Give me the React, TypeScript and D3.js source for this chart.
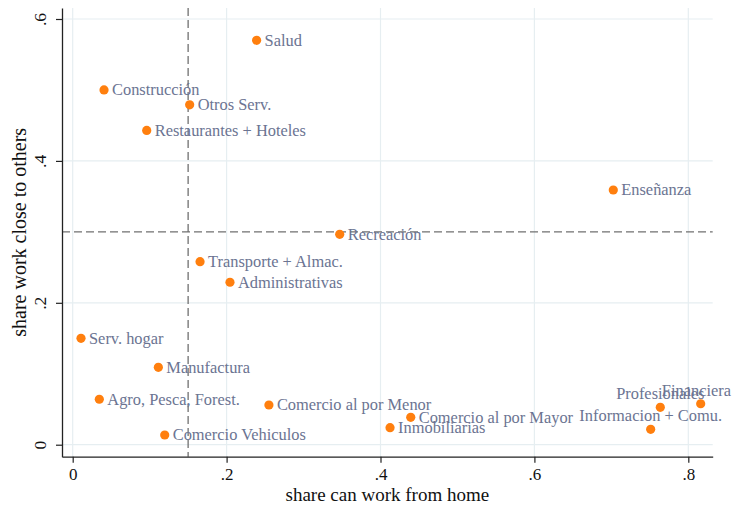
import React, { useEffect, useRef } from 'react'
import * as d3 from 'd3'

// sectors and their shares
const sectors = [
  'Salud',
  'Construcción',
  'Otros Serv.',
  'Restaurantes + Hoteles',
  'Enseñanza',
  'Recreación',
  'Transporte + Almac.',
  'Administrativas',
  'Serv. hogar',
  'Manufactura',
  'Agro, Pesca, Forest.',
  'Comercio Vehiculos',
  'Comercio al por Menor',
  'Inmobiliarias',
  'Comercio al por Mayor',
  'Profesionales',
  'Financiera',
  'Informacion + Comu.',
]
const workFromHome = [
  0.239, 0.0407, 0.152, 0.0962, 0.7025, 0.347, 0.1655, 0.2044, 0.0108, 0.1113, 0.0346, 0.1196, 0.255,
  0.4124, 0.4393, 0.7636, 0.8161, 0.7511,
]
const closeToOthers = [
  0.57, 0.5, 0.479, 0.443, 0.359, 0.2965, 0.258, 0.229, 0.1499, 0.109, 0.0641, 0.0137, 0.056, 0.024,
  0.0386, 0.0527, 0.0577, 0.0217,
]
const xTicks = [0, 0.2, 0.4, 0.6, 0.8]
const yTicks = [0, 0.2, 0.4, 0.6]
const xCut = 0.15
const yCut = 0.3
// labels placed above the marker instead of to the right
const labelsAbove = ['Profesionales', 'Financiera', 'Informacion + Comu.']

const FONT = '"Liberation Serif", "Times New Roman", serif'

const App = () => {
  const W = 733
  const H = 505
  const left = 62
  const right = 712.7
  const top = 8
  const bottom = 456.7
  const refSvg = useRef<SVGSVGElement>(null)

  const draw = () => {
    const root = d3.select(refSvg.current)
    root.selectAll('*').remove()

    const x = d3.scaleLinear().domain([-0.0139, 0.8317]).range([left, right])
    const y = d3.scaleLinear().domain([-0.0169, 0.6155]).range([bottom, top])
    const fmt = (d: number) => (d === 0 ? '0' : d3.format('.1f')(d).replace('0.', '.'))

    const svg = root.append('g')

    // grid
    svg
      .selectAll('.vgrid')
      .data(xTicks)
      .enter()
      .append('line')
      .attr('x1', (d) => x(d))
      .attr('x2', (d) => x(d))
      .attr('y1', top)
      .attr('y2', bottom)
      .attr('stroke', '#e6eef1')
      .attr('stroke-width', 1.2)
    svg
      .selectAll('.hgrid')
      .data(yTicks)
      .enter()
      .append('line')
      .attr('x1', left)
      .attr('x2', right)
      .attr('y1', (d) => y(d))
      .attr('y2', (d) => y(d))
      .attr('stroke', '#e6eef1')
      .attr('stroke-width', 1.2)

    // reference lines
    svg
      .append('line')
      .attr('x1', x(xCut))
      .attr('x2', x(xCut))
      .attr('y1', top)
      .attr('y2', bottom)
      .attr('stroke', '#707070')
      .attr('stroke-width', 1.3)
      .attr('stroke-dasharray', '8,4')
    svg
      .append('line')
      .attr('x1', left)
      .attr('x2', right)
      .attr('y1', y(yCut))
      .attr('y2', y(yCut))
      .attr('stroke', '#707070')
      .attr('stroke-width', 1.3)
      .attr('stroke-dasharray', '8,4')

    const data = sectors.map((name, i) => ({ name, wfh: workFromHome[i], close: closeToOthers[i] }))

    svg
      .selectAll('.dot')
      .data(data)
      .enter()
      .append('circle')
      .attr('cx', (d) => x(d.wfh))
      .attr('cy', (d) => y(d.close))
      .attr('r', 4.6)
      .attr('fill', '#ff7f0e')

    const labels = svg
      .selectAll('.lbl')
      .data(data)
      .enter()
      .append('text')
      .attr('x', (d) => (labelsAbove.includes(d.name) ? x(d.wfh) : x(d.wfh) + 8))
      .attr('y', (d) => (labelsAbove.includes(d.name) ? y(d.close) - 8 : y(d.close) + 5.5))
      .attr('text-anchor', (d) => (labelsAbove.includes(d.name) ? 'middle' : 'start'))
      .attr('font-family', FONT)
      .attr('font-size', 16.4)
      .attr('fill', '#6b7492')
      .text((d) => d.name)

    // keep centred labels inside the picture
    labels.each(function (d) {
      if (!labelsAbove.includes(d.name)) return
      const w = (this as SVGTextElement).getComputedTextLength()
      const cx = Math.min(x(d.wfh), W - 2 - w / 2)
      d3.select(this).attr('x', cx)
    })

    // x axis
    const gx = svg
      .append('g')
      .attr('transform', `translate(0,${bottom})`)
      .call(d3.axisBottom(x).tickValues(xTicks).tickFormat(fmt as any).tickSize(6).tickSizeOuter(0))
    gx.select('.domain').attr('stroke', '#222').attr('stroke-width', 1.3)
    gx.selectAll('.tick line').attr('stroke', '#222').attr('stroke-width', 1.2)
    gx.selectAll('.tick text')
      .attr('y', 23.8)
      .attr('dy', null)
      .attr('fill', '#111')
      .attr('font-family', FONT)
      .attr('font-size', 17)

    // y axis
    const gy = svg
      .append('g')
      .attr('transform', `translate(${left},0)`)
      .call(d3.axisLeft(y).tickValues(yTicks).tickFormat(fmt as any).tickSize(6).tickSizeOuter(0))
    gy.select('.domain').attr('stroke', '#222').attr('stroke-width', 1.3)
    gy.selectAll('.tick line').attr('stroke', '#222').attr('stroke-width', 1.2)
    gy.selectAll('.tick text')
      .attr('transform', 'rotate(-90)')
      .attr('x', 0)
      .attr('y', -16)
      .attr('dy', null)
      .attr('text-anchor', 'middle')
      .attr('fill', '#111')
      .attr('font-family', FONT)
      .attr('font-size', 17.5)

    // axis titles
    svg
      .append('text')
      .attr('x', (left + right) / 2)
      .attr('y', 501)
      .attr('text-anchor', 'middle')
      .attr('font-family', FONT)
      .attr('font-size', 19)
      .attr('fill', '#111')
      .text('share can work from home')
    svg
      .append('text')
      .attr('transform', `translate(26,${(top + bottom) / 2}) rotate(-90)`)
      .attr('text-anchor', 'middle')
      .attr('font-family', FONT)
      .attr('font-size', 20)
      .attr('fill', '#111')
      .text('share work close to others')
  }

  useEffect(() => {
    if (refSvg.current) draw()
  })

  return (
    <svg
      ref={refSvg}
      width={W}
      height={H}
      style={{ position: 'absolute', left: 0, top: 0, background: '#fff' }}
    />
  )
}

export default App
